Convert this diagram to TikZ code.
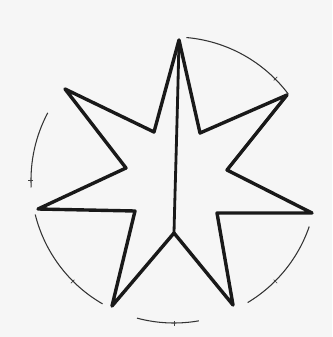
\documentclass[tikz,border=0pt]{standalone}
\usepackage{tikz}
\usetikzlibrary{calc}
\tikzset{starline/.style={line width=2.9pt, line join=round, line cap=round, black!90}}
\tikzset{rimarc/.style={line width=0.9pt, black!80}}
\tikzset{rimtick/.style={line width=0.6pt, black!75}}

\begin{document}
\begin{tikzpicture}[x=0.03cm, y=-0.03cm]
% paper
\fill[gray!7] (0,0) rectangle (332,337);
\useasboundingbox (0,0) rectangle (332,337);
% star points, outer and inner
\coordinate (top) at (179,40);   \coordinate (in1) at (200,133);
\coordinate (ur) at (287,95);    \coordinate (in2) at (227,170);
\coordinate (rt) at (312,213);   \coordinate (in3) at (217,213);
\coordinate (br) at (233,305);   \coordinate (bot) at (174,233);
\coordinate (bl) at (112,306);   \coordinate (in5) at (135,211);
\coordinate (lt) at (38,209);    \coordinate (in6) at (126,168);
\coordinate (ul) at (65,89);     \coordinate (in7) at (154,132);
\draw[starline] (top) -- (in1) -- (ur) -- (in2) -- (rt) -- (in3) -- (br)
  -- (bot) -- (bl) -- (in5) -- (lt) -- (in6) -- (ul) -- (in7) -- cycle;
% spine
\draw[starline, line width=2.4pt] (top) .. controls (177,130) and (175,190) .. (bot);
% rim of the circle
\coordinate (c) at (174,180);
\foreach \a/\b in {37/85, 152/183, 194/240, 255/280, 301/341}
  \draw[rimarc] ($(c)+(-\a:143)$) arc[start angle=-\a, end angle=-\b, radius=143];
\foreach \a in {45,180,225,270,315}
  \draw[rimtick] ($(c)+(-\a:141)$) -- ($(c)+(-\a:146)$);
\end{tikzpicture}
\end{document}
